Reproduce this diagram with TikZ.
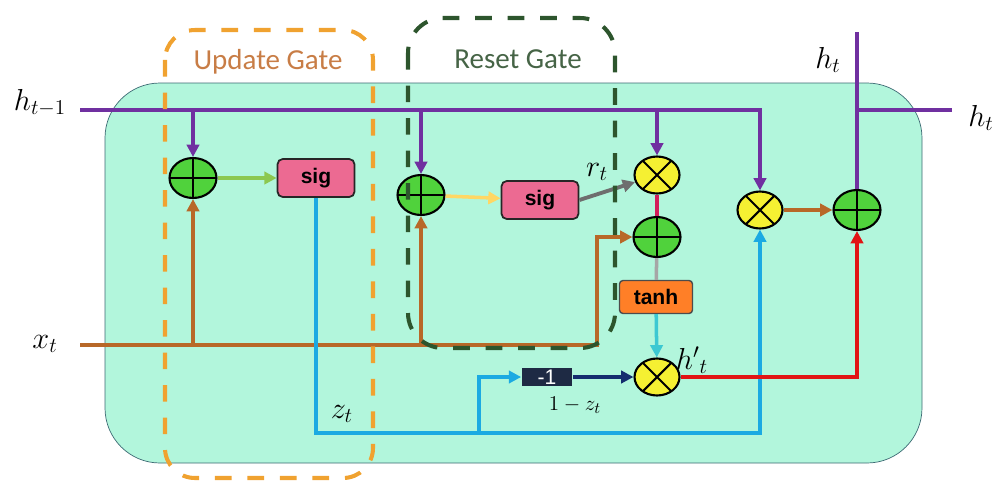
\documentclass[tikz,border=0pt]{standalone}
\usepackage{fontspec}
\newfontfamily\gatefont{Carlito}
\newfontfamily\boxfont{Liberation Sans}
\usetikzlibrary{shapes.geometric,arrows.meta}

\definecolor{cellfill}{RGB}{178,246,220}
\definecolor{cellline}{RGB}{60,105,115}
\definecolor{hpurple}{RGB}{112,48,160}
\definecolor{xbrown}{RGB}{184,104,40}
\definecolor{zblue}{RGB}{27,170,226}
\definecolor{addgreen}{RGB}{80,210,60}
\definecolor{mulyellow}{RGB}{245,240,50}
\definecolor{sigpink}{RGB}{236,106,146}
\definecolor{tanhorange}{RGB}{255,127,39}
\definecolor{negnavy}{RGB}{30,42,68}
\definecolor{upcolor}{RGB}{240,162,48}
\definecolor{uptext}{RGB}{200,125,70}
\definecolor{rscolor}{RGB}{45,85,45}
\definecolor{rstext}{RGB}{70,100,70}

\tikzset{
  >={Triangle[length=7pt,width=7pt]},
  addop/.style={ellipse,draw=black,line width=1.2pt,fill=addgreen,
    minimum width=0.94cm,minimum height=0.8cm,inner sep=0pt,
    path picture={\draw[line width=1.2pt]
      (path picture bounding box.north) -- (path picture bounding box.south)
      (path picture bounding box.west) -- (path picture bounding box.east);}},
  mulop/.style={ellipse,draw=black,line width=1.2pt,fill=mulyellow,
    minimum width=0.9cm,minimum height=0.74cm,inner sep=0pt,
    path picture={\draw[line width=1.2pt]
      ([shift={(-0.5cm,-0.5cm)}]path picture bounding box.center) -- ([shift={(0.5cm,0.5cm)}]path picture bounding box.center)
      ([shift={(-0.5cm,0.5cm)}]path picture bounding box.center) -- ([shift={(0.5cm,-0.5cm)}]path picture bounding box.center);}},
  sigbox/.style={draw=black!85,line width=1pt,fill=sigpink,rounded corners=3pt,
    minimum width=1.54cm,minimum height=0.76cm,font=\boxfont\bfseries\large},
  tanhbox/.style={draw=black!70,line width=0.8pt,fill=tanhorange,rounded corners=2pt,
    minimum width=1.46cm,minimum height=0.66cm,font=\boxfont\bfseries\large},
  negbox/.style={fill=negnavy,text=white,minimum width=1.02cm,minimum height=0.36cm,
    inner sep=0pt,font=\boxfont\large},
  hline/.style={draw=hpurple,line width=2.2pt},
  xline/.style={draw=xbrown,line width=2.2pt},
  zline/.style={draw=zblue,line width=2pt},
  lbl/.style={font=\fontsize{18}{21}\selectfont},
  gatebox/.style={line width=2.3pt,dash pattern=on 9.5pt off 9pt},
}

\begin{document}
\begin{tikzpicture}[x=0.02cm,y=-0.02cm]
  \useasboundingbox (0,0) rectangle (995,484);
  % the cell
  \draw[cellline,fill=cellfill,rounded corners=1.1cm] (105,83) rectangle (922,463);

  \coordinate (hin) at (80,110);
  \coordinate (hup) at (857,32);
  \coordinate (hout) at (952,110);
  \coordinate (xin) at (80,345);
  \coordinate (xturn) at (597,345);
  \coordinate (zbot) at (0,433);
  \coordinate (zsplit) at (479,433);

  \node[addop] (add1) at (193,178) {};
  \node[sigbox] (sig1) at (316,178) {sig};
  \node[addop] (add2) at (421,195) {};
  \node[sigbox] (sig2) at (540,200) {sig};
  \node[mulop] (mul1) at (657,175) {};
  \node[addop] (add3) at (657,237) {};
  \node[tanhbox] (tanh) at (656,297) {tanh};
  \node[mulop] (mul2) at (657,377) {};
  \node[negbox] (neg) at (547,377) {-1};
  \node[mulop] (mul3) at (760,210) {};
  \node[addop] (add4) at (857,210) {};

  % previous state
  \draw[hline,->] (hin) -| (mul3);
  \draw[hline,->] (add1 |- hin) -- (add1);
  \draw[hline,->] (add2 |- hin) -- (add2);
  \draw[hline,->] (mul1 |- hin) -- (mul1);
  % input
  \draw[xline,->] (xin) -- (xturn) |- (add3.west);
  \draw[xline,->] (add1 |- xin) -- (add1);
  \draw[xline,->] (add2 |- xin) -- (add2);
  % gates
  \draw[draw={rgb,255:red,140;green,200;blue,80},line width=2pt,->] (add1) -- (sig1);
  \draw[draw={rgb,255:red,255;green,215;blue,100},line width=2pt,->] (add2) -- (sig2);
  \draw[draw={rgb,255:red,110;green,110;blue,110},line width=2.2pt,->] (sig2.east) -- (mul1);
  \draw[draw={rgb,255:red,210;green,30;blue,90},line width=2pt] (mul1) -- (add3);
  \draw[draw=black!35,line width=2pt] (add3) -- (tanh);
  \draw[draw={rgb,255:red,60;green,200;blue,210},line width=2pt,->] (tanh) -- (mul2);
  \draw[zline,->] (sig1.south) -- (sig1 |- zbot) -| (mul3);
  \draw[zline,->] (zsplit) |- (neg);
  \draw[draw={rgb,255:red,20;green,45;blue,110},line width=2pt,->] (neg) -- (mul2);
  \draw[xline,->] (mul3) -- (add4);
  \draw[draw={rgb,255:red,225;green,20;blue,20},line width=2.2pt,->] (mul2) -| (add4);
  % new state
  \draw[hline] (add4) -- (hup);
  \draw[hline] (add4 |- hout) -- (hout);

  % labels
  \node[lbl] (hprevlab) at (40,103) {$h_{t-1}$};
  \node[lbl] (xlab) at (45,344) {$x_t$};
  \node[lbl] (htoplab) at (828,60) {$h_t$};
  \node[lbl] (houtlab) at (981,118) {$h_t$};
  \node[lbl] (rlab) at (597,172) {$r_t$};
  \node[lbl] (hnewlab) at (692,360) {${h'}_t$};
  \node[lbl] (zlab) at (342,414) {$z_t$};
  \node[font=\fontsize{13}{15}\selectfont] (omzlab) at (575,405) {$1-z_t$};

  % gate frames
  \draw[upcolor,gatebox,rounded corners=0.6cm] (165,30) rectangle (373,478);
  \draw[rscolor,gatebox,rounded corners=0.7cm] (408,18) rectangle (615,348);
  \node[uptext,font=\gatefont\fontsize{16.5}{19}\selectfont] (uplab) at (268,62) {Update Gate};
  \node[rstext,font=\gatefont\fontsize{16.5}{19}\selectfont] (rslab) at (518,59) {Reset Gate};
\end{tikzpicture}
\end{document}
